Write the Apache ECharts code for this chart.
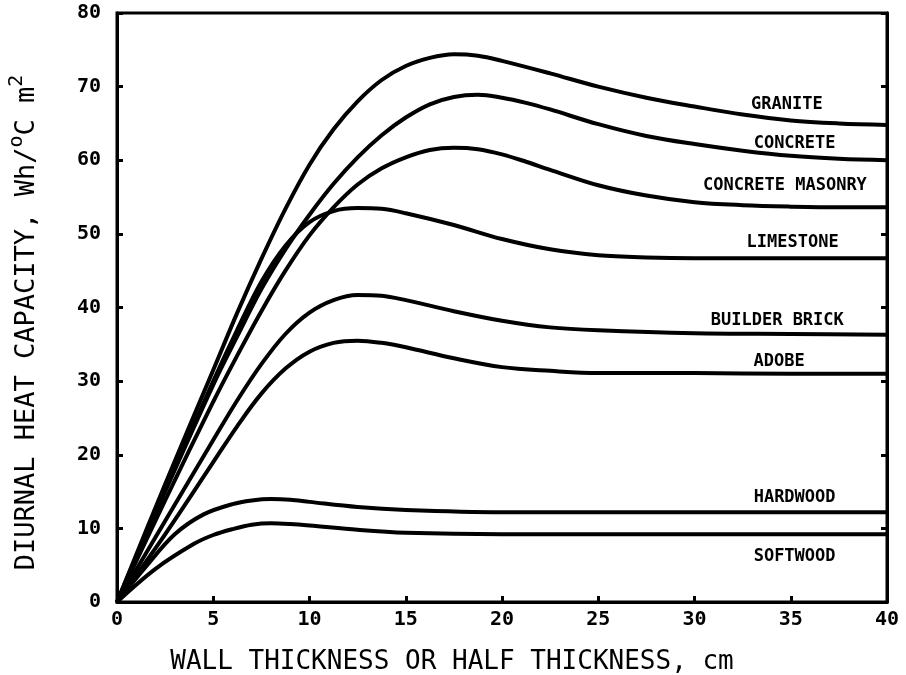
<!DOCTYPE html>
<html>
<head>
<meta charset="utf-8">
<script src="https://cdn.jsdelivr.net/npm/echarts@6/dist/echarts.min.js"></script>
<style>html,body{margin:0;padding:0;background:#fff}#c{width:906px;height:675px}</style>
</head>
<body>
<div id="c"></div>
<script>
// Data (x: wall thickness, cm; y: diurnal heat capacity, Wh/°C m²)
const granite = [[0,0],[2.5,16],[5,31.5],[6.25,39.3],[7.5,46.6],[8.75,53.4],[10,59.4],[11.25,64.2],[12.5,68],[13.75,70.9],[15,72.8],[16.25,73.9],[17.5,74.4],[18.75,74.2],[20,73.5],[22.5,71.8],[25,70],[27.5,68.5],[30,67.3],[32.5,66.2],[35,65.4],[37.5,65],[40,64.8]];
const concrete = [[0,0],[2.5,15],[5,29.5],[6.25,36.1],[7.5,42.5],[8.75,47.9],[10,52.6],[11.25,56.8],[12.5,60.4],[13.75,63.4],[15,65.8],[16.25,67.6],[17.5,68.6],[18.75,68.9],[20,68.5],[21.25,67.8],[22.5,66.9],[25,64.9],[27.5,63.3],[30,62.2],[32.5,61.3],[35,60.6],[37.5,60.2],[40,60]];
const concreteMasonry = [[0,0],[2.5,13.8],[5,27.2],[6.25,33.5],[7.5,39.5],[8.75,45],[10,49.8],[11.25,53.6],[12.5,56.7],[13.75,58.9],[15,60.4],[16.25,61.4],[17.5,61.7],[18.75,61.5],[20,60.8],[21.25,59.8],[22.5,58.7],[25,56.6],[27.5,55.2],[30,54.3],[32.5,53.9],[35,53.7],[37.5,53.6],[40,53.6]];
const limestone = [[0,0],[2.5,15.2],[5,30],[6.25,37],[7.5,43.5],[8.75,48.4],[10,51.6],[11.25,53.1],[12.5,53.5],[13.75,53.4],[15,52.8],[17.5,51.2],[20,49.3],[22.5,47.9],[25,47.1],[27.5,46.8],[30,46.7],[35,46.7],[40,46.7]];
const builderBrick = [[0,0],[2.5,11],[5,22],[6.25,27.4],[7.5,32.3],[8.75,36.4],[10,39.3],[11.25,41],[12.5,41.7],[13.75,41.6],[15,41],[17.5,39.5],[20,38.2],[22.5,37.3],[25,36.9],[30,36.5],[35,36.4],[40,36.3]];
const adobe = [[0,0],[2.5,9.2],[5,19],[6.25,23.9],[7.5,28.3],[8.75,31.7],[10,34],[11.25,35.2],[12.5,35.5],[13.75,35.2],[15,34.6],[17.5,33.1],[20,31.9],[22.5,31.4],[25,31.1],[30,31.1],[35,31],[40,31]];
const hardwood = [[0,0],[1.5,4.8],[3,9.2],[4.5,11.9],[6,13.3],[7,13.8],[8,14],[9,13.9],[10,13.6],[12.5,12.9],[15,12.5],[20,12.2],[25,12.2],[30,12.2],[40,12.2]];
const softwood = [[0,0],[2,4.5],[4,7.9],[5,9.1],[6,9.9],[7,10.5],[8,10.7],[9,10.6],[10,10.4],[12.5,9.8],[15,9.4],[20,9.2],[25,9.2],[30,9.2],[40,9.2]];

const seriesNames = ['GRANITE','CONCRETE','CONCRETE MASONRY','LIMESTONE','BUILDER BRICK','ADOBE','HARDWOOD','SOFTWOOD'];
const seriesData = [granite, concrete, concreteMasonry, limestone, builderBrick, adobe, hardwood, softwood];
// label anchor: x position and vertical offset from curve's final value
const labelX = [34.8, 35.2, 34.7, 35.1, 34.3, 34.4, 35.2, 35.2];
const labelDy = [2.8, 2.2, 3.0, 2.1, 1.9, 1.6, 2.0, -3.0];

const mono = '"DejaVu Sans Mono", monospace';

const series = seriesData.map((d, i) => {
  const last = d[d.length - 1][1];
  return {
    name: seriesNames[i],
    type: 'line',
    data: d,
    smooth: 0.35,
    showSymbol: false,
    symbol: 'none',
    lineStyle: { color: '#000', width: 4 },
    z: 3,
    markPoint: {
      symbol: 'circle', symbolSize: 0,
      data: [{ coord: [labelX[i], last + labelDy[i]] }],
      label: {
        show: true, position: 'inside', formatter: seriesNames[i],
        color: '#000', fontFamily: mono, fontSize: 17, fontWeight: 'bold'
      }
    }
  };
});

const chart = echarts.init(document.getElementById('c'), null, { renderer: 'canvas' });
chart.setOption({
  animation: false,
  backgroundColor: '#fff',
  grid: { left: 117, right: 19, top: 13, bottom: 73, outerBoundsMode: 'none', containLabel: false, show: true, borderColor: '#000', borderWidth: 3, backgroundColor: 'transparent' },
  xAxis: [{
    type: 'value', min: 0, max: 40, interval: 5,
    name: 'WALL THICKNESS OR HALF THICKNESS, cm', nameLocation: 'middle', nameGap: 47,
    nameTextStyle: { color: '#000', fontFamily: mono, fontSize: 26, padding: [0, 100, 0, 0] },
    axisLine: { show: true, lineStyle: { color: '#000', width: 3 } },
    axisTick: { show: true, inside: true, length: 6, lineStyle: { color: '#000', width: 3 } },
    axisLabel: { color: '#000', fontFamily: mono, fontSize: 20, fontWeight: 'bold', margin: 8 },
    splitLine: { show: false }
  }],
  yAxis: [{
    type: 'value', min: 0, max: 80, interval: 10,
    name: 'DIURNAL HEAT CAPACITY, Wh/{sup|o}C m{sup|2}', nameLocation: 'middle', nameGap: 70,
    nameTextStyle: {
      color: '#000', fontFamily: mono, fontSize: 27, lineHeight: 40, padding: [0, 30, 0, 0],
      rich: {
        sup: { color: '#000', fontFamily: mono, fontSize: 20, lineHeight: 20, verticalAlign: 'top' }
      }
    },
    axisLine: { show: true, lineStyle: { color: '#000', width: 3 } },
    axisTick: { show: true, inside: true, length: 6, lineStyle: { color: '#000', width: 3 } },
    axisLabel: { color: '#000', fontFamily: mono, fontSize: 20, fontWeight: 'bold', margin: 16 },
    splitLine: { show: false }
  }, {
    type: 'value', min: 0, max: 80, interval: 10, position: 'right',
    axisLine: { show: true, lineStyle: { color: '#000', width: 3 } },
    axisTick: { show: true, inside: true, length: 6, lineStyle: { color: '#000', width: 3 } },
    axisLabel: { show: false },
    splitLine: { show: false }
  }],
  series: series
});
</script>
</body>
</html>
